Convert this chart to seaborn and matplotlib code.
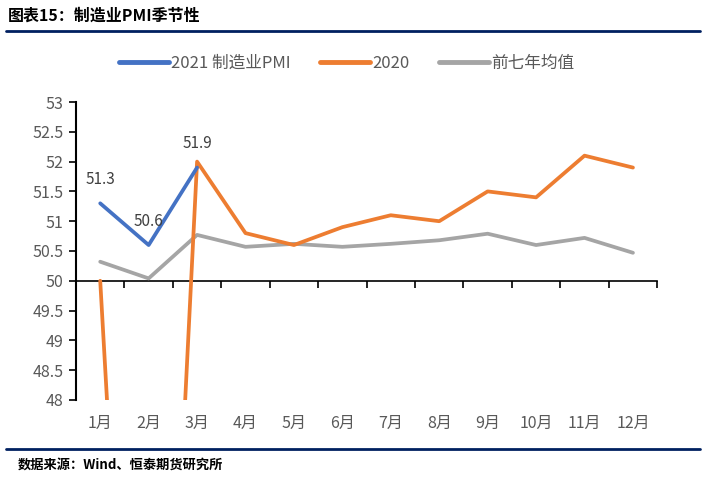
import numpy as np
import pandas as pd
import seaborn as sns
import matplotlib.pyplot as plt
from matplotlib.lines import Line2D

# chart data
months = ["1月", "2月", "3月", "4月", "5月", "6月", "7月", "8月", "9月", "10月", "11月", "12月"]
pmi_2021 = [51.3, 50.6, 51.9]
pmi_2020 = [50.0, 35.7, 52.0, 50.8, 50.6, 50.9, 51.1, 51.0, 51.5, 51.4, 52.1, 51.9]
avg_7y = [50.32, 50.04, 50.77, 50.57, 50.62, 50.57, 50.62, 50.68, 50.79, 50.6, 50.72, 50.47]
series_names = ["2021 制造业PMI", "2020", "前七年均值"]
colors = ["#4472C4", "#ED7D31", "#A5A5A5"]

sns.set_style("white")
plt.rcParams["font.family"] = ["Noto Sans CJK SC", "DejaVu Sans"]

rows = []
for name, vals in zip(series_names, [pmi_2021, pmi_2020, avg_7y]):
    for i, v in enumerate(vals):
        rows.append({"month": i, "value": v, "series": name})
df = pd.DataFrame(rows)

fig = plt.figure(figsize=(7.07, 4.79), dpi=100)
ax = fig.add_axes([0.1075, 0.165, 0.822, 0.622])

# draw grey first so blue/orange sit on top
for name, col in zip(series_names[::-1], colors[::-1]):
    sub = df[df["series"] == name]
    sns.lineplot(data=sub, x="month", y="value", color=col, lw=2.7, ax=ax,
                 sort=False, legend=False, solid_capstyle="round")

# labels on the 2021 series
for i, v in enumerate(pmi_2021):
    ax.annotate(f"{v}", (i, v), xytext=(0, 17), textcoords="offset points",
                ha="center", va="center", fontsize=11, color="#404040")

ax.set_xlim(-0.5, len(months) - 0.5)
ax.set_ylim(48, 53)
ax.set_yticks(np.arange(48, 53.01, 0.5))
ax.set_yticklabels([f"{t:g}" for t in np.arange(48, 53.01, 0.5)])
ax.set_xticks(range(len(months)))
ax.set_xticklabels(months)
ax.set_xlabel("")
ax.set_ylabel("")
ax.tick_params(axis="x", length=0, labelsize=11.5, labelcolor="#595959", pad=11)
ax.tick_params(axis="y", length=5, width=1.2, color="black", direction="out",
               labelsize=11.5, labelcolor="#595959", left=True, pad=4)
for s in ["top", "right", "bottom"]:
    ax.spines[s].set_visible(False)
ax.spines["left"].set_color("black")
ax.spines["left"].set_linewidth(1.5)

# category axis crosses at 50
sec = ax.secondary_xaxis((50 - 48) / 5)
sec.set_xticks(np.arange(-0.5, len(months), 1.0))
sec.set_xticklabels([])
sec.tick_params(length=5, width=1.2, color="black", direction="out")
sec.spines["bottom"].set_color("black")
sec.spines["bottom"].set_linewidth(1.2)

handles = [Line2D([0], [0], color=c, lw=3.5, solid_capstyle="round") for c in colors]
fig.legend(handles, series_names, loc="center", bbox_to_anchor=(0.49, 1 - 63 / 479),
           ncol=3, frameon=False, fontsize=12, handlelength=3.0, handletextpad=0.1,
           columnspacing=1.8, labelcolor="#595959")

# header and footer
fig.text(8 / 707, 1 - 16 / 479, "图表15：制造业PMI季节性", fontsize=11.5, fontweight="bold",
         ha="left", va="center", color="black")
fig.add_artist(Line2D([6 / 707, 700 / 707], [1 - 31 / 479] * 2, color="#002060", lw=2))
fig.add_artist(Line2D([6 / 707, 700 / 707], [1 - 449 / 479] * 2, color="#002060", lw=2))
fig.text(18 / 707, 1 - 465 / 479, "数据来源：Wind、恒泰期货研究所", fontsize=9.5, fontweight="bold",
         ha="left", va="center", color="black")

fig.savefig("out.png", dpi=100)
